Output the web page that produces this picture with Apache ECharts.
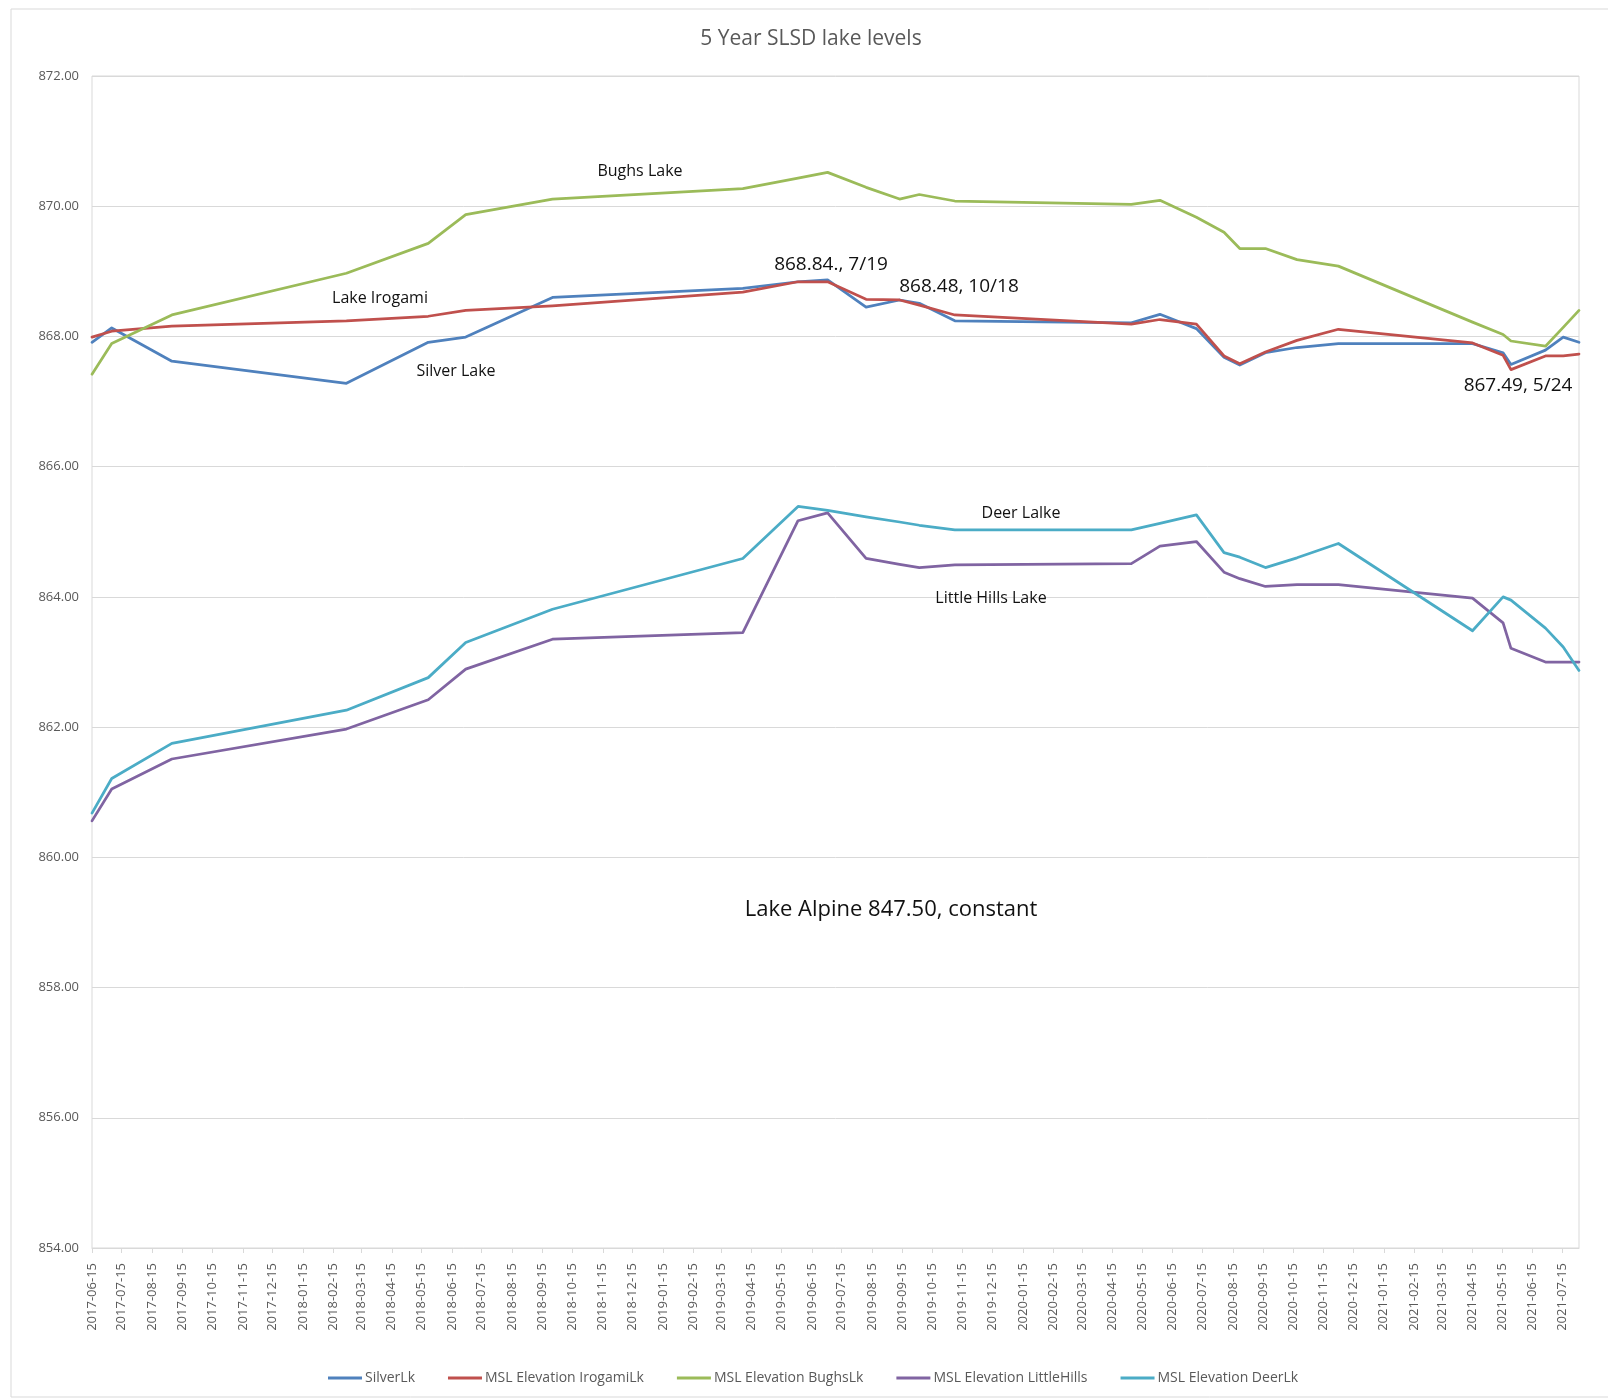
<!DOCTYPE html>
<html>

<head>
    <title>5 Year SLSD lake levels</title>
    <meta charset="utf-8">
    <script src="https://cdn.jsdelivr.net/npm/echarts@6.0.0/dist/echarts.min.js"></script>
    <style>
        body { margin: 0; background: #ffffff; }
    </style>
</head>

<body>
    <!-- chart container, same size as the window -->
    <div id="main" style="width: 1608px;height:1399px;"></div>

    <script type="text/javascript">
        var myChart = echarts.init(document.getElementById('main'));

        // reading dates (shared by all lakes)
        var dates = ['2017-06-15', '2017-07-05', '2017-09-04', '2018-02-28', '2018-05-22', '2018-06-29',
            '2018-09-25', '2019-04-06', '2019-06-01', '2019-07-01', '2019-08-09', '2019-09-12',
            '2019-10-02', '2019-11-07', '2020-05-04', '2020-06-02', '2020-07-09', '2020-08-06',
            '2020-08-22', '2020-09-17', '2020-10-19', '2020-11-30', '2021-04-15', '2021-05-16',
            '2021-05-24', '2021-06-28', '2021-07-16', '2021-08-01'
        ];

        // MSL elevation per lake
        var silverLk = [867.91, 868.13, 867.62, 867.28, 867.91, 867.99, 868.60, 868.74, 868.84, 868.87,
            868.45, 868.56, 868.51, 868.24, 868.21, 868.34, 868.12, 867.68, 867.56, 867.75, 867.83,
            867.89, 867.89, 867.75, 867.57, 867.79, 867.99, 867.91];
        var irogamiLk = [867.99, 868.08, 868.16, 868.24, 868.31, 868.40, 868.47, 868.68, 868.84, 868.84,
            868.57, 868.56, 868.48, 868.33, 868.19, 868.26, 868.19, 867.70, 867.58, 867.76, 867.94,
            868.11, 867.90, 867.71, 867.49, 867.70, 867.70, 867.73];
        var bughsLk = [867.42, 867.89, 868.33, 868.97, 869.43, 869.87, 870.11, 870.27, 870.43, 870.52,
            870.29, 870.11, 870.18, 870.08, 870.03, 870.09, 869.83, 869.60, 869.35, 869.35, 869.18,
            869.08, 868.22, 868.03, 867.93, 867.85, 868.14, 868.40];
        var littleHills = [860.56, 861.05, 861.51, 861.97, 862.42, 862.89, 863.35, 863.45, 865.17, 865.29,
            864.59, 864.50, 864.45, 864.49, 864.51, 864.78, 864.85, 864.38, 864.28, 864.16, 864.19,
            864.19, 863.98, 863.60, 863.21, 863.00, 863.00, 863.00];
        var deerLk = [860.68, 861.21, 861.75, 862.26, 862.76, 863.30, 863.81, 864.59, 865.39, 865.33,
            865.23, 865.15, 865.10, 865.03, 865.03, 865.13, 865.26, 864.68, 864.61, 864.45, 864.60,
            864.82, 863.48, 864.00, 863.95, 863.52, 863.23, 862.87];

        var seriesNames = ['SilverLk', 'MSL Elevation IrogamiLk', 'MSL Elevation BughsLk',
            'MSL Elevation LittleHills', 'MSL Elevation DeerLk'];
        var colors = ['#4F81BD', '#C0504D', '#9BBB59', '#8064A2', '#4BACC6'];

        // monthly tick labels on the date axis
        var tickLabels = ['2017-06-15', '2017-07-15', '2017-08-15', '2017-09-15', '2017-10-15', '2017-11-15',
            '2017-12-15', '2018-01-15', '2018-02-15', '2018-03-15', '2018-04-15', '2018-05-15',
            '2018-06-15', '2018-07-15', '2018-08-15', '2018-09-15', '2018-10-15', '2018-11-15',
            '2018-12-15', '2019-01-15', '2019-02-15', '2019-03-15', '2019-04-15', '2019-05-15',
            '2019-06-15', '2019-07-15', '2019-08-15', '2019-09-15', '2019-10-15', '2019-11-15',
            '2019-12-15', '2020-01-15', '2020-02-15', '2020-03-15', '2020-04-15', '2020-05-15',
            '2020-06-15', '2020-07-15', '2020-08-15', '2020-09-15', '2020-10-15', '2020-11-15',
            '2020-12-15', '2021-01-15', '2021-02-15', '2021-03-15', '2021-04-15', '2021-05-15',
            '2021-06-15', '2021-07-15'
        ];

        var values = [silverLk, irogamiLk, bughsLk, littleHills, deerLk];
        var font = '"Open Sans", "Noto Sans", sans-serif';

        // date string -> timestamp for the value axis
        function ts(d) { return +echarts.time.parse(d); }
        var tickValues = tickLabels.map(ts);

        var series = values.map(function (vals, k) {
            return {
                name: seriesNames[k],
                type: 'line',
                symbol: 'none',
                color: colors[k],
                lineStyle: { width: 2.75, join: 'round', cap: 'round' },
                data: dates.map(function (d, i) { return [ts(d), vals[i]]; })
            };
        });

        // free text notes drawn on the chart
        function note(text, x, y, size) {
            return {
                type: 'text', x: x, y: y, z: 10,
                style: {
                    text: text, fill: '#111111', font: size + 'px ' + font,
                    align: 'center', verticalAlign: 'middle'
                }
            };
        }

        var option = {
            backgroundColor: '#ffffff',
            animation: false,
            title: {
                text: '5 Year SLSD lake levels',
                left: 806,
                top: 24,
                textAlign: 'center',
                textStyle: { color: '#595959', fontSize: 21, fontWeight: 'normal', fontFamily: font }
            },
            grid: {
                left: 92, right: 29, top: 76, bottom: 151,
                show: true, borderColor: '#d9d9d9', borderWidth: 1
            },
            legend: {
                data: seriesNames,
                left: 323,
                top: 1366,
                icon: 'rect',
                itemWidth: 34,
                itemHeight: 3,
                itemGap: 33,
                textStyle: { color: '#595959', fontSize: 14, fontFamily: font, padding: [0, 0, 0, -2] }
            },
            xAxis: {
                type: 'value',
                min: ts('2017-06-15'),
                max: ts('2021-08-01'),
                axisLine: { lineStyle: { color: '#d9d9d9' } },
                axisTick: { show: true, length: 5, lineStyle: { color: '#d9d9d9' }, customValues: tickValues },
                splitLine: { show: false },
                axisLabel: {
                    customValues: tickValues,
                    rotate: 90,
                    margin: 15,
                    color: '#595959',
                    fontSize: 13,
                    fontFamily: font,
                    formatter: function (v) { return echarts.time.format(v, '{yyyy}-{MM}-{dd}', false); }
                }
            },
            yAxis: {
                type: 'value',
                min: 854,
                max: 872,
                interval: 2,
                axisLine: { show: false },
                axisTick: { show: false },
                splitLine: { lineStyle: { color: '#d9d9d9' } },
                axisLabel: {
                    margin: 13,
                    color: '#595959',
                    fontSize: 13,
                    fontFamily: font,
                    formatter: function (v) { return v.toFixed(2); }
                }
            },
            graphic: [
                {
                    type: 'rect', z: -1, silent: true,
                    shape: { x: 11, y: 9, width: 1640, height: 1388 },
                    style: { fill: 'none', stroke: '#d9d9d9', lineWidth: 1 }
                },
                note('Bughs Lake', 640, 171, 16),
                note('Lake Irogami', 380, 298, 16),
                note('Silver Lake', 456, 371, 16),
                note('868.84., 7/19', 831, 265, 19),
                note('868.48, 10/18', 959, 287, 19),
                note('867.49, 5/24', 1518, 386, 19),
                note('Deer Lalke', 1021, 513, 16),
                note('Little Hills Lake', 991, 598, 16),
                note('Lake Alpine 847.50, constant', 891, 910, 22)
            ],
            series: series
        };

        myChart.setOption(option);
    </script>
</body>

</html>
